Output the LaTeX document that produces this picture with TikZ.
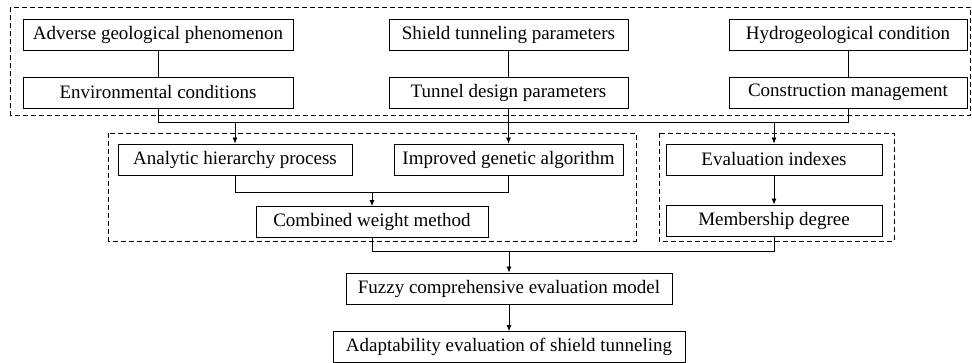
\documentclass[tikz,border=0pt]{standalone}
\usepackage{fontspec}
\setmainfont{Liberation Serif}
\usetikzlibrary{arrows.meta}
\begin{document}
\begin{tikzpicture}[x=1pt,y=-1pt,
  box/.style={draw,line width=0.8pt,minimum height=31pt,inner sep=0pt,font=\fontsize{19}{21}\selectfont},
  grp/.style={draw,dash pattern=on 5pt off 3pt,line width=0.8pt},
  ln/.style={line width=0.8pt},
  arr/.style={ln,-{Latex[length=6pt,width=5pt]}}]
\useasboundingbox (0,0) rectangle (972,363);
% groups
\draw[grp] (10.5,7) rectangle (970.5,115);
\draw[grp] (108,133.5) rectangle (636,241);
\draw[grp] (659,133.5) rectangle (894,241.5);
% nodes
\node[box,minimum width=270pt] (adv) at (158,34.5) {Adverse geological phenomenon};
\node[box,minimum width=270pt] (env) at (158,92.5) {Environmental conditions};
\node[box,minimum width=239pt] (shd) at (508.5,34.5) {Shield tunneling parameters};
\node[box,minimum width=239pt] (tdp) at (508.5,92.5) {Tunnel design parameters};
\node[box,minimum width=238pt] (hyd) at (848,34.5) {Hydrogeological condition};
\node[box,minimum width=238pt] (con) at (848,92.5) {Construction management};
\node[box,minimum width=234pt] (ahp) at (235,159.5) {Analytic hierarchy process};
\node[box,minimum width=229pt] (iga) at (508.5,159.5) {Improved genetic algorithm};
\node[box,minimum width=216pt] (evi) at (774,159.5) {Evaluation indexes};
\node[box,minimum width=232pt] (cwm) at (372,222) {Combined weight method};
\node[box,minimum width=216pt] (mem) at (774,220.5) {Membership degree};
\node[box,minimum width=326pt] (fcm) at (509,288.5) {Fuzzy comprehensive evaluation model};
\node[box,minimum width=352pt] (ade) at (509,347) {Adaptability evaluation of shield tunneling};
% connectors
\draw[ln] (adv.south) -- (env.north);
\draw[ln] (shd.south) -- (tdp.north);
\draw[ln] (hyd.south) -- (con.north);
\draw[ln] (env.south) -- ++(0,14) coordinate (bL) -| (con.south);
\draw[ln] (tdp.south) -- (tdp.south |- bL);
\draw[arr] (bL -| ahp.north) -- (ahp.north);
\draw[arr] (bL -| iga.north) -- (iga.north);
\draw[arr] (bL -| evi.north) -- (evi.north);
\draw[ln] (ahp.south) -- ++(0,17.5) coordinate (jL) -| (iga.south);
\draw[arr] (jL -| cwm.north) -- (cwm.north);
\draw[arr] (evi.south) -- (mem.north);
\draw[ln] (cwm.south) -- ++(0,14) coordinate (kL) -| (mem.south);
\draw[arr] (kL -| fcm.north) -- (fcm.north);
\draw[arr] (fcm.south) -- (ade.north);
\end{tikzpicture}
\end{document}
